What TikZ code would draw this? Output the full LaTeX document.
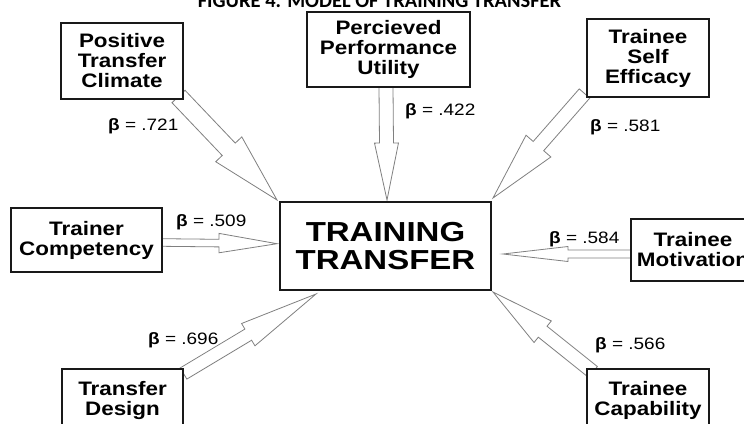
\documentclass[tikz,border=0pt]{standalone}
\usepackage{fontspec}
\setmainfont{Liberation Sans}
\newfontfamily\boxfont[FakeStretch=1.15]{Liberation Sans}
\newfontfamily\bigfont[FakeStretch=1.2]{Liberation Sans}
\newfontfamily\titlefont{Carlito}
\usetikzlibrary{calc}
\newcommand\blockarrow[5]{%
  \draw[arrowline]
    ($(#1)!#3!90:(#2)$) --
    ($(#2)!#5!(#1)!#3!90:(#2)$) --
    ($(#2)!#5!(#1)!#4!90:(#2)$) --
    (#2) --
    ($(#2)!#5!(#1)!#4!-90:(#2)$) --
    ($(#2)!#5!(#1)!#3!-90:(#2)$) --
    ($(#1)!#3!-90:(#2)$) -- cycle;
}
\begin{document}
\begin{tikzpicture}[x=1pt,y=-1pt,
  box/.style={draw=black!90, line width=1.6pt, fill=white, inner sep=0pt, align=center,
    font=\boxfont\bfseries\fontsize{19.5}{20}\selectfont},
  bigbox/.style={box, font=\bigfont\bfseries\fontsize{27.5}{28}\selectfont},
  beta/.style={anchor=base west, inner sep=0pt, font=\boxfont\fontsize{16.5}{18}\selectfont},
  arrowline/.style={draw=black!50, line width=0.8pt, fill=white, line join=miter}]
\useasboundingbox (0,0) rectangle (744,423);
\clip (0,0) rectangle (744,423);
\fill[white] (0,0) rectangle (744,423);

\node[anchor=base, inner sep=0pt, font=\titlefont\bfseries\fontsize{20.5}{22}\selectfont] (title) at (379.5,7.5) {FIGURE 4. MODEL OF TRAINING TRANSFER};

% arrow end points
\coordinate (ptcS) at (178.5,96.5);  \coordinate (ptcT) at (277,200);
\coordinate (pcuS) at (386,87);      \coordinate (pcuT) at (387,200);
\coordinate (tseS) at (584.5,93.5);  \coordinate (tseT) at (493,198);
\coordinate (tcS) at (162,242.5);    \coordinate (tcT) at (277,243.7);
\coordinate (tmS) at (631,254);      \coordinate (tmT) at (503,254);
\coordinate (tcapS) at (593,372);    \coordinate (tcapT) at (493,292);
\coordinate (tdS) at (183.5,373.5);  \coordinate (tdT) at (316,294);

\blockarrow{ptcS}{ptcT}{9pt}{18pt}{70pt}
\blockarrow{pcuS}{pcuT}{7pt}{12pt}{57pt}
\blockarrow{tseS}{tseT}{7pt}{16.5pt}{69pt}
\blockarrow{tcS}{tcT}{3.8pt}{9.7pt}{58pt}
\blockarrow{tmS}{tmT}{4pt}{7.5pt}{65pt}
\blockarrow{tcapS}{tcapT}{7pt}{13.8pt}{63.6pt}
\blockarrow{tdS}{tdT}{6.5pt}{13pt}{79pt}

% boxes
\node[box, minimum width=122pt, minimum height=76pt] (ptc) at (122,61) {Positive\\Transfer\\Climate};
\node[box, minimum width=163pt, minimum height=75pt] (pcu) at (388.5,49.5) {Percieved\\Performance\\Utility};
\node[box, minimum width=122pt, minimum height=78pt] (tse) at (648,58) {Trainee\\Self\\Efficacy};
\node[box, minimum width=151pt, minimum height=64pt] (tc) at (86.5,240) {Trainer\\Competency};
\node[bigbox, minimum width=211pt, minimum height=88pt] (tt) at (385.5,246) {TRAINING\\TRANSFER};
\node[box, minimum width=124pt, minimum height=62pt] (tm) at (693,250) {Trainee\\Motivation};
\node[box, minimum width=121pt, minimum height=62pt] (td) at (122.5,400) {Transfer\\Design};
\node[box, minimum width=122pt, minimum height=62pt] (tcap) at (648,400) {Trainee\\Capability};

% labels
\node[beta] (b1) at (108,130) {{\bfseries β} = .721};
\node[beta] (b2) at (405,115) {{\bfseries β} = .422};
\node[beta] (b3) at (590,131) {{\bfseries β} = .581};
\node[beta] (b4) at (176,226) {{\bfseries β} = .509};
\node[beta] (b5) at (549,243) {{\bfseries β} = .584};
\node[beta] (b6) at (595,349) {{\bfseries β} = .566};
\node[beta] (b7) at (148,344) {{\bfseries β} = .696};
\end{tikzpicture}
\end{document}
